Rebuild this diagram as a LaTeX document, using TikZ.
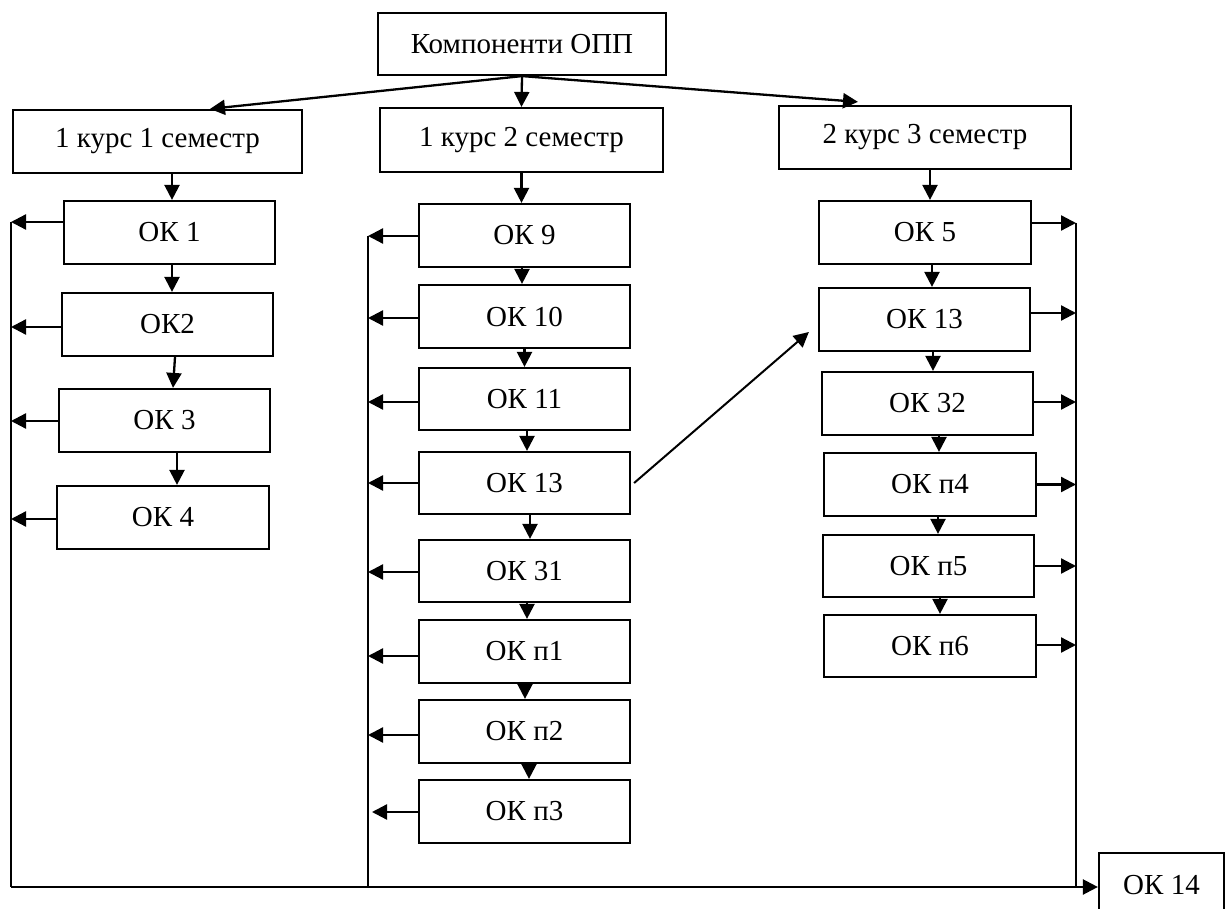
\documentclass[tikz,border=0pt]{standalone}
\usepackage{fontspec}
\setmainfont{Liberation Serif}
\usetikzlibrary{arrows.meta,calc}
\begin{document}
\begin{tikzpicture}[x=1pt,y=-1pt,
  box/.style={draw,line width=2.2pt,inner sep=0pt,font=\fontsize{29}{33}\selectfont,minimum height=63pt},
  arr/.style={line width=2.3pt,-{Triangle[length=15pt,width=15pt]}},
  bus/.style={line width=1.6pt}]
\useasboundingbox (0,0) rectangle (1227,909);
% top
\node[box,minimum width=288pt,minimum height=62pt] (top) at (522,44) {Компоненти ОПП};
\node[box,minimum width=289pt] (k1) at (157.5,141.5) {1 курс 1 семестр};
\node[box,minimum width=283pt,minimum height=64pt] (k2) at (521.5,140) {1 курс 2 семестр};
\node[box,minimum width=292pt] (k3) at (925,137.5) {2 курс 3 семестр};
% left column
\node[box,minimum width=211pt] (ok1) at (169.5,232.5) {ОК 1};
\node[box,minimum width=211pt] (ok2) at (167.5,324.5) {ОК2};
\node[box,minimum width=211pt] (ok3) at (164.5,420.5) {ОК 3};
\node[box,minimum width=212pt] (ok4) at (163,517.5) {ОК 4};
% middle column
\node[box,minimum width=211pt] (ok9) at (524.5,235.5) {ОК 9};
\node[box,minimum width=211pt] (ok10) at (524.5,316.5) {ОК 10};
\node[box,minimum width=211pt,minimum height=62pt] (ok11) at (524.5,399) {ОК 11};
\node[box,minimum width=211pt,minimum height=62pt] (ok13) at (524.5,483) {ОК 13};
\node[box,minimum width=211pt,minimum height=62pt] (ok31) at (524.5,571) {ОК 31};
\node[box,minimum width=211pt] (okp1) at (524.5,651.5) {ОК п1};
\node[box,minimum width=211pt] (okp2) at (524.5,731.5) {ОК п2};
\node[box,minimum width=211pt] (okp3) at (524.5,811.5) {ОК п3};
% right column
\node[box,minimum width=212pt] (ok5) at (925,232.5) {ОК 5};
\node[box,minimum width=211pt] (ok13b) at (924.5,319.5) {ОК 13};
\node[box,minimum width=211pt] (ok32) at (927.5,403.5) {ОК 32};
\node[box,minimum width=212pt] (okp4) at (930,484.5) {ОК п4};
\node[box,minimum width=211pt,minimum height=62pt] (okp5) at (928.5,566) {ОК п5};
\node[box,minimum width=212pt,minimum height=62pt] (okp6) at (930,646) {ОК п6};
% OK 14
\node[box,minimum width=125pt,minimum height=64pt] (ok14) at (1161.5,885) {ОК 14};
% buses
\coordinate (busL) at (11,222);
\coordinate (busLb) at (11,887);
\coordinate (busM) at (368,236);
\coordinate (busMb) at (368,887);
\coordinate (busR) at (1076,223);
\coordinate (busRb) at (1076,887);
\draw[bus] (busL) -- (busLb);
\draw[bus] (busM) -- (busMb);
\draw[bus] (busR) -- (busRb);
\draw[arr] (busLb) -- (busLb -| ok14.west);
% top arrows
\draw[arr] (top.south) -- ([xshift=52.5pt]k1.north);
\draw[arr] (top.south) -- (k2.north);
\draw[arr] (top.south) -- ([xshift=-67pt,yshift=3pt]k3.north);
% left column downward
\draw[arr] ([xshift=14.5pt]k1.south) -- ([xshift=2.5pt]ok1.north);
\draw[arr] ([xshift=2.5pt]ok1.south) -- ([xshift=4.5pt]ok2.north);
\draw[arr] ([xshift=7.5pt]ok2.south) -- ([xshift=8.5pt]ok3.north);
\draw[arr] ([xshift=12.5pt]ok3.south) -- ([xshift=14pt]ok4.north);
% middle column downward
\draw[arr] (k2.south) -- (k2.south |- ok9.north);
\draw[arr] ([xshift=-2.5pt]ok9.south) -- ([xshift=-2.5pt]ok10.north);
\draw[arr] (ok10.south) -- (ok11.north);
\draw[arr] ([xshift=2.5pt]ok11.south) -- ([xshift=2.5pt]ok13.north);
\draw[arr] ([xshift=5.5pt]ok13.south) -- ([xshift=5.5pt]ok31.north);
\draw[arr] ([xshift=2.5pt]ok31.south) -- ([xshift=2.5pt]okp1.north);
\draw[arr] ([xshift=0.5pt]okp1.south) -- ([xshift=0.5pt]okp2.north);
\draw[arr] ([xshift=4.5pt]okp2.south) -- ([xshift=4.5pt]okp3.north);
% right column downward
\draw[arr] ([xshift=5pt]k3.south) -- ([xshift=5pt]ok5.north);
\draw[arr] ([xshift=7pt]ok5.south) -- ([xshift=7.5pt]ok13b.north);
\draw[arr] ([xshift=8.5pt]ok13b.south) -- ([xshift=5.5pt]ok32.north);
\draw[arr] ([xshift=11.5pt]ok32.south) -- ([xshift=9pt]okp4.north);
\draw[arr] ([xshift=8pt]okp4.south) -- ([xshift=9.5pt]okp5.north);
\draw[arr] ([xshift=11.5pt]okp5.south) -- ([xshift=10pt]okp6.north);
% diagonal
\draw[arr,line width=2pt] ([xshift=3pt]ok13.east) -- ([xshift=-9pt,yshift=-12.5pt]ok13b.west);
% left bus arrows
\path ([yshift=10.5pt]ok1.west) coordinate (l1)
      ([yshift=-2.5pt]ok2.west) coordinate (l2)
      ([yshift=-0.5pt]ok3.west) coordinate (l3)
      ([yshift=-1.5pt]ok4.west) coordinate (l4);
\foreach \p in {l1,l2,l3,l4} \draw[arr] (\p) -- (\p -| busL);
% middle bus arrows
\path ([yshift=-0.5pt]ok9.west) coordinate (m1)
      ([yshift=-1.5pt]ok10.west) coordinate (m2)
      ([yshift=-3pt]ok11.west) coordinate (m3)
      (ok13.west) coordinate (m4)
      ([yshift=-1pt]ok31.west) coordinate (m5)
      ([yshift=-4.5pt]okp1.west) coordinate (m6)
      ([yshift=-3.5pt]okp2.west) coordinate (m7);
\foreach \p in {m1,m2,m3,m4,m5,m6,m7} \draw[arr] (\p) -- (\p -| busM);
\draw[arr] ([yshift=-0.5pt]okp3.west) -- ([xshift=4pt,yshift=-0.5pt]okp3.west -| busM);
% right bus arrows
\path ([yshift=9.5pt]ok5.east) coordinate (r1)
      ([yshift=6.5pt]ok13b.east) coordinate (r2)
      ([yshift=1.5pt]ok32.east) coordinate (r3)
      (okp4.east) coordinate (r4)
      (okp5.east) coordinate (r5)
      ([yshift=1pt]okp6.east) coordinate (r6);
\foreach \p in {r1,r2,r3,r4,r5,r6} \draw[arr] (\p) -- (\p -| busR);
\end{tikzpicture}
\end{document}
